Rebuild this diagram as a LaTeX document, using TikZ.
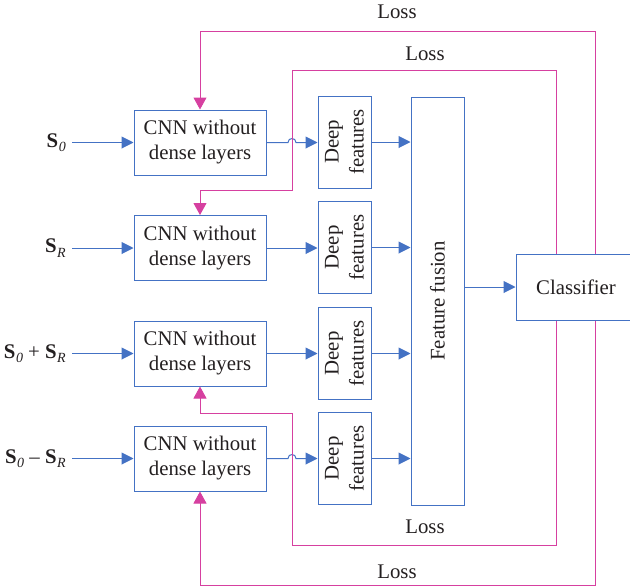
\documentclass[tikz,border=0pt]{standalone}
\usepackage{fontspec}
\setmainfont{Liberation Serif}
\usetikzlibrary{arrows.meta}
\definecolor{netblue}{RGB}{68,114,196}
\definecolor{losspink}{RGB}{214,64,160}
\definecolor{ink}{RGB}{35,31,32}
\newcommand{\Ssub}[1]{\textbf{S}\kern0.5pt\raisebox{-0.45ex}{\fontsize{14}{14}\selectfont\textit{#1}}}

\begin{document}
\begin{tikzpicture}[x=1pt,y=-1pt,
  every node/.style={text=ink, font=\fontsize{20.8}{25}\selectfont},
  box/.style={draw=netblue, line width=1pt, inner sep=0pt, align=center},
  cnnbox/.style={box, minimum width=132pt, minimum height=65pt},
  featbox/.style={box, minimum width=53pt, minimum height=92pt},
  flow/.style={draw=netblue, line width=1pt, -{Triangle[length=12pt,width=12pt]}},
  loss/.style={draw=losspink, line width=1pt, -{Triangle[length=12pt,width=13pt]}},
  lbl/.style={inner sep=0pt, anchor=east},
  losslbl/.style={inner sep=0pt}
]
\clip (0,0) rectangle (630,587);

% column positions of the feedback lines
\coordinate (xo) at (595,0);
\coordinate (xi) at (556,0);
\coordinate (xj) at (292,0);
\coordinate (topo) at (0,31);
\coordinate (topi) at (0,70);
\coordinate (midt) at (0,190);
\coordinate (midb) at (0,413);
\coordinate (boti) at (0,545);
\coordinate (boto) at (0,585);

% CNN branches
\node[cnnbox] (cnn1) at (200,142.5) {CNN without\\dense layers};
\node[cnnbox] (cnn2) at (200,248)   {CNN without\\dense layers};
\node[cnnbox] (cnn3) at (200,353.5) {CNN without\\dense layers};
\node[cnnbox] (cnn4) at (200,458.5) {CNN without\\dense layers};

% inputs
\node[lbl] (in1) at (66,142.5) {\Ssub{0}};
\node[lbl] (in2) at (66,248)   {\Ssub{R}};
\node[lbl] (in3) at (66,353.5) {\Ssub{0} + \Ssub{R}};
\node[lbl] (in4) at (66,458.5) {\Ssub{0} – \Ssub{R}};
\foreach \i in {1,...,4}
  \draw[flow] ([xshift=6pt]in\i.east) -- (cnn\i.west);

% deep feature blocks
\node[featbox] (deep1) at (344.5,142)   {};
\node[featbox] (deep2) at (344.5,247.5) {};
\node[featbox] (deep3) at (344.5,353.5) {};
\node[featbox] (deep4) at (344.5,458.5) {};
\foreach \i in {1,...,4}
  \node[rotate=90, align=center, inner sep=0pt] at (deep\i) {Deep\\features};

% fusion and classifier
\node[box, minimum width=53pt, minimum height=408pt] (fusion) at (437.5,301) {};
\node[rotate=90, inner sep=0pt] at (fusion) {Feature fusion};
\node[box, minimum width=120pt, minimum height=66pt] (cls) at (576,287) {Classifier};

% CNN -> deep features (hops over the feedback lines on rows 1 and 4)
\draw[flow] (cnn1.east) -- ([xshift=-4pt]cnn1.east -| xj)
  .. controls +(0,-5.3) and +(0,-5.3) .. ([xshift=4pt]cnn1.east -| xj)
  -- (cnn1.east -| deep1.west);
\draw[flow] (cnn2.east) -- (cnn2.east -| deep2.west);
\draw[flow] (cnn3.east) -- (cnn3.east -| deep3.west);
\draw[flow] (cnn4.east) -- ([xshift=-4pt]cnn4.east -| xj)
  .. controls +(0,-5.3) and +(0,-5.3) .. ([xshift=4pt]cnn4.east -| xj)
  -- (cnn4.east -| deep4.west);

% deep features -> fusion -> classifier
\foreach \i in {1,...,4}
  \draw[flow] (deep\i.east) -- (deep\i.east -| fusion.west);
\draw[flow] (fusion.east |- cls.west) -- (cls.west);

% loss feedback
\draw[loss] (cls.north -| xo) |- (cnn1.north |- topo) -- (cnn1.north);
\draw[loss] (cls.north -| xi) |- (xj |- topi) -- (xj |- midt) -| (cnn2.north);
\draw[loss] (cls.south -| xi) |- (xj |- boti) -- (xj |- midb) -| (cnn3.south);
\draw[loss] (cls.south -| xo) |- (cnn4.south |- boto) -- (cnn4.south);

\node[losslbl] (l1) at (397,12)  {Loss};
\node[losslbl] (l2) at (425,54)  {Loss};
\node[losslbl] (l3) at (425,527) {Loss};
\node[losslbl] (l4) at (397,572) {Loss};
\end{tikzpicture}
\end{document}
